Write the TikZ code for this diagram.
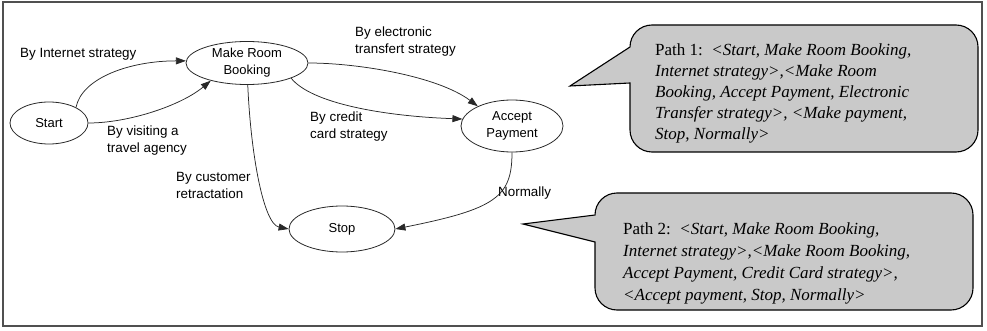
\documentclass[tikz,border=0pt]{standalone}
\usepackage{fontspec}
\setmainfont{Liberation Sans}
\newfontfamily\calloutfont{Liberation Serif}
\usetikzlibrary{shapes.geometric,arrows.meta}
\definecolor{calloutgray}{RGB}{201,201,201}
\definecolor{inkgray}{RGB}{40,40,40}
\definecolor{framegray}{RGB}{80,80,80}

\begin{document}
\begin{tikzpicture}[x=1pt,y=-1pt,
  state/.style={ellipse,draw=inkgray,line width=0.8pt,inner sep=0pt,align=center,
    font=\fontsize{13}{17}\selectfont},
  edgelabel/.style={align=left,anchor=west,inner sep=0pt,font=\fontsize{13.4}{17}\selectfont},
  flow/.style={draw=inkgray,line width=0.75pt,-{Triangle[length=10pt,width=7pt]}},
  callout/.style={draw=black,line width=1.1pt,fill=calloutgray,line join=miter},
  callouttext/.style={align=left,anchor=north west,inner sep=0pt,
    font=\calloutfont\fontsize{17}{21}\selectfont},
  frame/.style={draw=framegray,line width=1.4pt}
]
\useasboundingbox (0,0) rectangle (987,331);
\path[frame] (3,2) rectangle (982,326);

% states
\node[state,minimum width=78pt,minimum height=42pt]  (start)  at (49,123)  {Start};
\node[state,minimum width=122pt,minimum height=43pt] (mrb)    at (247,63)  {Make Room\\Booking};
\node[state,minimum width=102pt,minimum height=52pt] (accept) at (512,126) {Accept\\Payment};
\node[state,minimum width=106pt,minimum height=46pt] (stop)   at (342,229) {Stop};

% transitions
\draw[flow] (start.30) .. controls +(6,-30) and +(-55,0) .. (mrb.178);
\draw[flow] (start.east) .. controls +(40,0) and +(-30,25) .. (mrb.206);
\draw[flow] (mrb.east) .. controls +(50,0) and +(-40,-30) .. (accept.150);
\draw[flow] (mrb.341) .. controls +(20,25) and +(-80,-3) .. (accept.172);
\draw[flow] (mrb.272) .. controls +(3,70) and +(-25,-5) .. (stop.west);
\draw[flow] (accept.south) .. controls +(0,45) and +(100,-20) .. (stop.east);

% transition labels
\node[edgelabel] (lInternet) at (20,54)  {By Internet strategy};
\node[edgelabel] (lVisit)    at (107,141) {By visiting a\\travel agency};
\node[edgelabel] (lElec)     at (355,42) {By electronic\\transfert strategy};
\node[edgelabel] (lCredit)   at (310,127) {By credit\\card strategy};
\node[edgelabel] (lRetract)  at (176,185) {By customer\\retractation};
\node[edgelabel] (lNormal)   at (498,193) {Normally};

% path callouts
\path[callout] (570,86) coordinate (c1tip) -- (630,47)
  arc[start angle=180,end angle=270,radius=22] -- (956,25)
  arc[start angle=270,end angle=360,radius=22] -- (978,130)
  arc[start angle=0,end angle=90,radius=22] -- (652,152)
  arc[start angle=90,end angle=180,radius=22] -- (630,83) -- cycle;
\node[callouttext] (path1) at (655,44)
  {Path 1:\hspace{0.5em}\textit{<Start, Make Room Booking,}\\
   \textit{Internet strategy>,<Make Room}\\
   \textit{Booking, Accept Payment, Electronic}\\
   \textit{Transfer strategy>, <Make payment,}\\
   \textit{Stop, Normally>}};

\path[callout] (523,224) coordinate (c2tip) -- (595,215)
  arc[start angle=180,end angle=270,radius=22] -- (951,193)
  arc[start angle=270,end angle=360,radius=22] -- (973,288)
  arc[start angle=0,end angle=90,radius=22] -- (617,310)
  arc[start angle=90,end angle=180,radius=22] -- (595,242) -- cycle;
\node[callouttext,font=\calloutfont\fontsize{17}{22}\selectfont] (path2) at (623,223)
  {Path 2:\hspace{0.5em}\textit{<Start, Make Room Booking,}\\
   \textit{Internet strategy>,<Make Room Booking,}\\
   \textit{Accept Payment, Credit Card strategy>,}\\
   \textit{<Accept payment, Stop, Normally>}};
\end{tikzpicture}
\end{document}
